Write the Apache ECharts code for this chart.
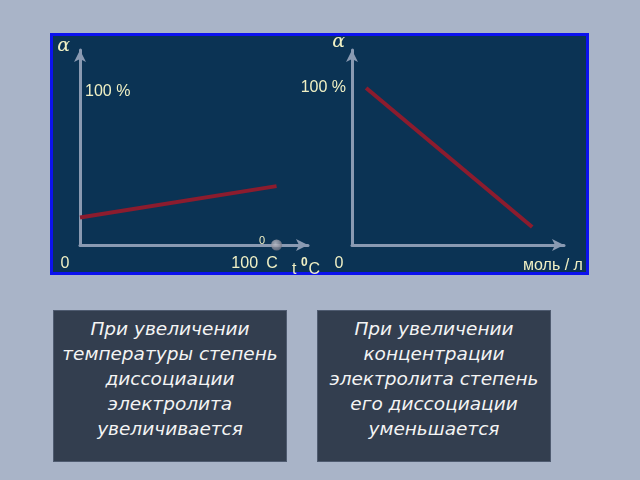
<!DOCTYPE html>
<html>
<head>
<meta charset="utf-8">
<script src="https://cdn.jsdelivr.net/npm/echarts@6/dist/echarts.min.js"></script>
<style>
  html, body { margin: 0; padding: 0; width: 640px; height: 480px; background: #a9b4c8; overflow: hidden; }
  #frame { position: absolute; left: 50px; top: 33px; width: 533px; height: 236px; border: 3px solid #0c12ee; background: #0b3354; }
  #chart { position: absolute; left: 0; top: 0; width: 640px; height: 480px; }
  .box { position: absolute; top: 310px; width: 232px; height: 145px; background: #333e4f; border: 1px solid #4f5b70;
         color: #f4f4f4; font-family: 'DejaVu Sans', sans-serif; font-style: italic; font-size: 18.5px; line-height: 25px;
         text-align: center; padding-top: 5px; box-sizing: content-box; }
</style>
</head>
<body>
<div id="frame"></div>
<div id="chart"></div>
<div class="box" style="left:53px;">При увеличении<br>температуры степень<br>диссоциации<br>электролита<br>увеличивается</div>
<div class="box" style="left:317px;">При увеличении<br>концентрации<br>электролита степень<br>его диссоциации<br>уменьшается</div>
<script>
// Left chart: degree of dissociation vs temperature
const tempX = [0, 100];
const tempAlpha = [18, 38.5];
const tempKnob = [[100, 0]];
// Right chart: degree of dissociation vs concentration
const concX = [0.08, 1.02];
const concAlpha = [100, 11.5];

const yTickLabel = '100 %';
const alphaName = 'α';
const tempName = '{m|t }{t|0}{m|C}';
const concName = 'моль / л';

const txt = '#f0f0c4';
const fnt = "'Liberation Sans', Arial, sans-serif";
const fs = 16;
const axisCol = '#8a9ab2';
const lineCol = '#8c1c2e';

const richBase = {
  // tick-label tokens: all same total height so the superscript sits raised
  n: { fontSize: fs, fontFamily: fnt, color: txt, lineHeight: 17, padding: [20, 0, 0, 0] },
  s: { fontSize: 11, fontFamily: fnt, color: txt, lineHeight: 11, padding: [0, 0, 26, 1] },
  // axis-name tokens
  m: { fontSize: fs, fontFamily: fnt, color: txt, lineHeight: 17, padding: [4, 0, 0, 0] },
  t: { fontSize: 12, fontFamily: fnt, fontWeight: 'bold', color: txt, lineHeight: 12, padding: [0, 1, 9, 0] }
};

function axisLineStyle() {
  return { show: true, symbol: ['none', 'arrow'], symbolSize: [9, 12], lineStyle: { color: axisCol, width: 3 } };
}

const chart = echarts.init(document.getElementById('chart'), null, { renderer: 'canvas' });
chart.setOption({
  backgroundColor: 'transparent',
  animation: false,
  grid: [
    { left: 80, top: 50, width: 228, bottom: 235 },
    { left: 352, top: 50, width: 212, bottom: 235 }
  ],
  xAxis: [
    {
      gridIndex: 0, type: 'value', min: 0, max: 116, interval: 100,
      axisLine: axisLineStyle(), axisTick: { show: false }, splitLine: { show: false },
      axisLabel: {
        margin: 0, showMaxLabel: false,
        formatter: v => v === 0 ? '{z|0}' : (v === 100 ? '{n|100}{s|0}{c|C}' : ''),
        rich: Object.assign({}, richBase, {
          z: { fontSize: fs, fontFamily: fnt, color: txt, lineHeight: 17, padding: [20, 30, 0, 0] },
          c: { fontSize: fs, fontFamily: fnt, color: txt, lineHeight: 17, padding: [20, 44, 0, 1] }
        })
      },
      name: tempName, nameLocation: 'end', nameGap: -16, nameMoveOverlap: false,
      nameTextStyle: { align: 'left', verticalAlign: 'top', padding: [14, 0, 0, 0], rich: richBase }
    },
    {
      gridIndex: 1, type: 'value', min: 0, max: 1.2, interval: 1.2,
      axisLine: axisLineStyle(), axisTick: { show: false }, splitLine: { show: false },
      axisLabel: {
        margin: 0, showMaxLabel: false,
        formatter: v => v === 0 ? '{z|0}' : '',
        rich: { z: { fontSize: fs, fontFamily: fnt, color: txt, lineHeight: 17, padding: [21, 26, 0, 0] } }
      },
      name: concName, nameLocation: 'end', nameGap: -41, nameMoveOverlap: false,
      nameTextStyle: { align: 'left', verticalAlign: 'top', padding: [12, 0, 0, 0], fontSize: fs, lineHeight: 17, fontFamily: fnt, color: txt }
    }
  ],
  yAxis: [
    {
      gridIndex: 0, type: 'value', min: 0, max: 127.5, interval: 100,
      axisLine: axisLineStyle(), axisTick: { show: false }, splitLine: { show: false },
      axisLabel: { inside: true, margin: 5, showMaxLabel: false, color: txt, fontSize: fs, fontFamily: fnt,
        formatter: v => v === 100 ? yTickLabel : '' },
      name: alphaName, nameLocation: 'end', nameGap: 4, nameMoveOverlap: false,
      nameTextStyle: { align: 'right', verticalAlign: 'middle', padding: [0, 10, 0, 0], color: txt, fontSize: 19, fontFamily: "'DejaVu Serif', serif", fontStyle: 'italic' }
    },
    {
      gridIndex: 1, type: 'value', min: 0, max: 124.2, interval: 100,
      axisLine: axisLineStyle(), axisTick: { show: false }, splitLine: { show: false },
      axisLabel: { margin: 6, showMaxLabel: false, color: txt, fontSize: fs, fontFamily: fnt,
        formatter: v => v === 100 ? yTickLabel : '' },
      name: alphaName, nameLocation: 'end', nameGap: 8, nameMoveOverlap: false,
      nameTextStyle: { align: 'right', verticalAlign: 'middle', padding: [0, 7, 0, 0], color: txt, fontSize: 19, fontFamily: "'DejaVu Serif', serif", fontStyle: 'italic' }
    }
  ],
  series: [
    {
      type: 'line', xAxisIndex: 0, yAxisIndex: 0, showSymbol: false, silent: true,
      data: tempX.map((x, i) => [x, tempAlpha[i]]),
      lineStyle: { color: lineCol, width: 4 }
    },
    {
      type: 'scatter', xAxisIndex: 0, yAxisIndex: 0, clip: false, silent: true,
      data: tempKnob, symbolSize: 11, z: 5,
      itemStyle: { color: new echarts.graphic.RadialGradient(0.4, 0.35, 0.7, [
        { offset: 0, color: '#c8c8d0' }, { offset: 1, color: '#6e7080' }]) }
    },
    {
      type: 'line', xAxisIndex: 1, yAxisIndex: 1, showSymbol: false, silent: true,
      data: concX.map((x, i) => [x, concAlpha[i]]),
      lineStyle: { color: lineCol, width: 4 }
    }
  ]
});
</script>
</body>
</html>
